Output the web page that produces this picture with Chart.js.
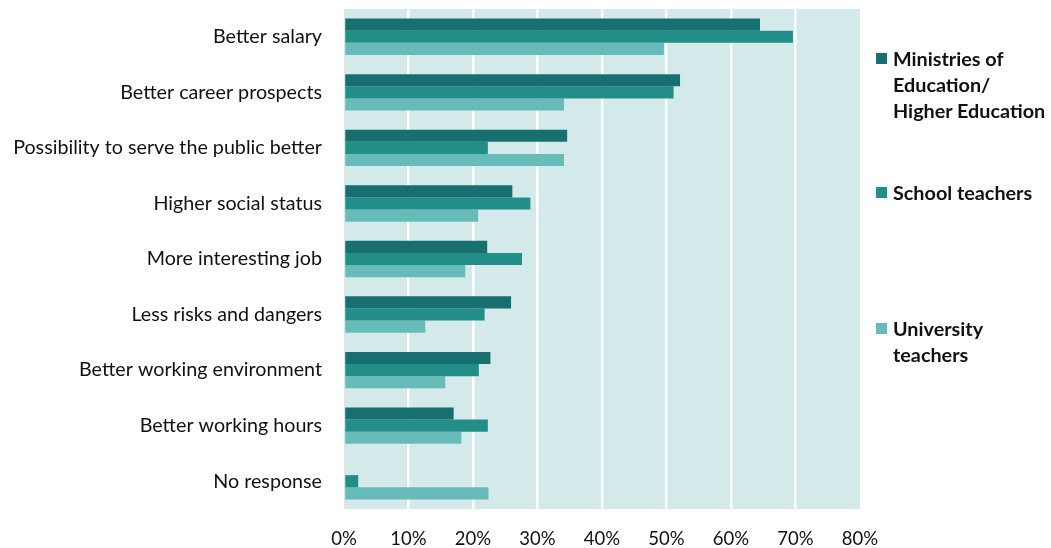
<!DOCTYPE html>
<html>
<head>
<meta charset="utf-8">
<script src="https://cdn.jsdelivr.net/npm/chart.js@4"></script>
<style>
  html, body { margin: 0; padding: 0; background: #fff; }
  #wrap { position: relative; width: 1051px; height: 548px; }
  #chart { position: absolute; left: 0; top: 0; }
  .legend-item { position: absolute; left: 876px; font: bold 19.8px Lato, sans-serif; line-height: 26px; color: #111; white-space: pre; }
  .legend-item .swatch { position: absolute; left: 0; top: 8px; width: 11px; height: 11px; }
  .legend-item .text { margin-left: 17px; }
</style>
</head>
<body>
<div id="wrap">
  <canvas id="chart" width="1051" height="548"></canvas>
</div>
<script>
// Reasons for preferring the job, share of respondents
const reasons = [
    'Better salary',
    'Better career prospects',
    'Possibility to serve the public better',
    'Higher social status',
    'More interesting job',
    'Less risks and dangers',
    'Better working environment',
    'Better working hours',
    'No response'
];

const ministries = [64.5, 52.1, 34.6, 26.1, 22.2, 25.9, 22.7, 17.0, 0];
const schoolTeachers = [69.6, 51.1, 22.3, 28.9, 27.6, 21.8, 20.9, 22.3, 2.2];
const universityTeachers = [49.6, 34.1, 34.1, 20.8, 18.8, 12.6, 15.7, 18.2, 22.4];

const seriesNames = ['Ministries of\nEducation/\nHigher Education', 'School teachers', 'University\nteachers'];
const seriesColors = ['#176f70', '#238e87', '#67bcba'];
const legendTops = [45, 179, 315];

const xTicks = [0, 10, 20, 30, 40, 50, 60, 70, 80];

const plotBackground = {
    id: 'plotBackground',
    beforeDraw(chart) {
        const { ctx, chartArea } = chart;
        ctx.save();
        ctx.fillStyle = '#d4e9ea';
        ctx.fillRect(chartArea.left, chartArea.top, chartArea.width, chartArea.height);
        ctx.restore();
    }
};

const series = [ministries, schoolTeachers, universityTeachers];

new Chart(document.getElementById('chart'), {
    type: 'bar',
    data: {
        labels: reasons,
        datasets: series.map((values, i) => ({
            label: seriesNames[i].replace(/\n/g, ' '),
            data: values,
            backgroundColor: seriesColors[i],
            borderWidth: 0,
            categoryPercentage: 0.655,
            barPercentage: 1.0
        }))
    },
    options: {
        indexAxis: 'y',
        responsive: false,
        animation: false,
        layout: { padding: { top: 9, right: 191, left: 0, bottom: 0 } },
        plugins: {
            legend: { display: false },
            tooltip: { enabled: false }
        },
        scales: {
            x: {
                min: 0,
                max: 80,
                afterBuildTicks(scale) {
                    scale.ticks = xTicks.map(v => ({ value: v }));
                },
                afterFit(scale) { scale.height = 39; },
                border: { display: false },
                grid: {
                    drawTicks: false,
                    lineWidth: 2.5,
                    color: ctx => (ctx.tick && (ctx.tick.value === 0 || ctx.tick.value === 80)) ? 'rgba(0,0,0,0)' : '#ffffff'
                },
                ticks: {
                    padding: 19,
                    color: '#111',
                    font: { family: 'Lato', size: 18.5 },
                    callback: value => value + '%'
                }
            },
            y: {
                afterFit(scale) {
                    scale.width = 344;
                    scale.paddingTop = 0;
                    scale.paddingBottom = 0;
                },
                border: { display: false },
                grid: { display: false, drawTicks: false },
                ticks: {
                    padding: 22,
                    color: '#111',
                    font: { family: 'Lato', size: 19.7 }
                }
            }
        }
    },
    plugins: [plotBackground]
});

// Legend on the right, with wrapped series names
const wrap = document.getElementById('wrap');
seriesNames.forEach((name, i) => {
    const item = document.createElement('div');
    item.className = 'legend-item';
    item.style.top = legendTops[i] + 'px';
    const swatch = document.createElement('span');
    swatch.className = 'swatch';
    swatch.style.background = seriesColors[i];
    const text = document.createElement('div');
    text.className = 'text';
    text.textContent = name;
    item.appendChild(swatch);
    item.appendChild(text);
    wrap.appendChild(item);
});
</script>
</body>
</html>
